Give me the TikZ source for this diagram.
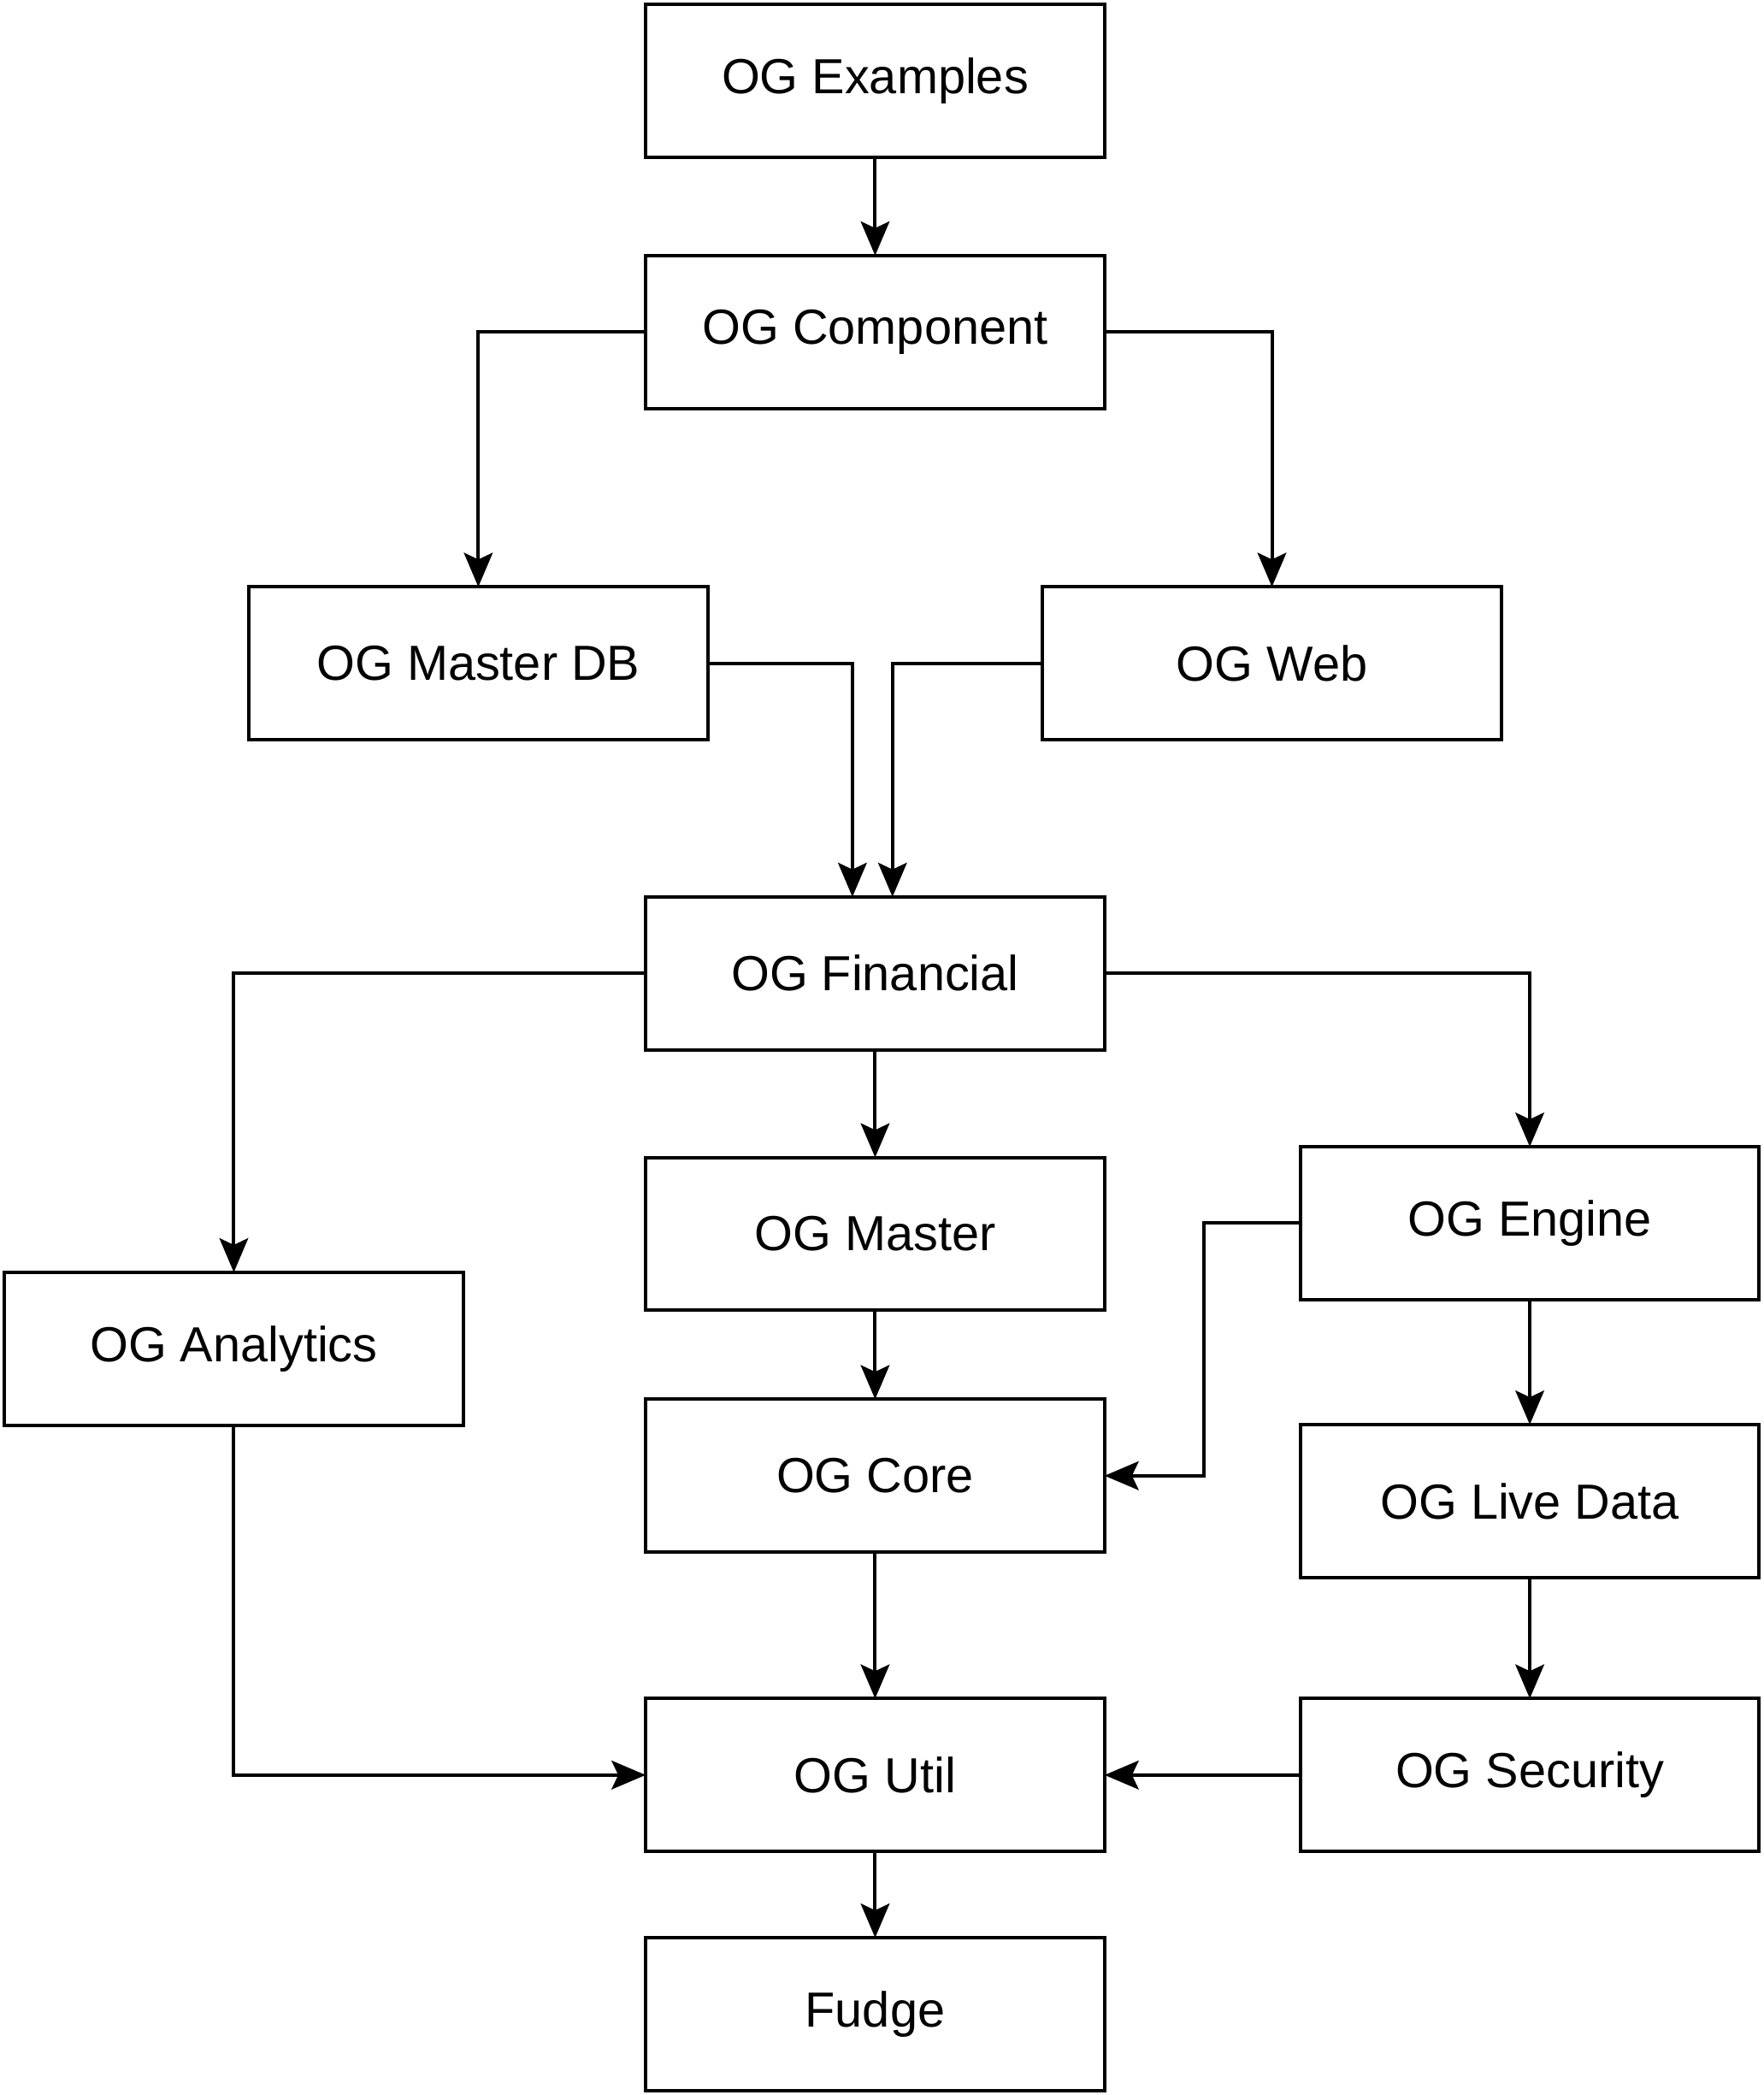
\documentclass[tikz,border=0pt]{standalone}
\usepackage{fontspec}
\setmainfont{Liberation Sans}
\usepackage {tikz}
\usetikzlibrary {positioning}
\usetikzlibrary{arrows.meta}

\begin{document}
\begin{tikzpicture}[
    box/.style={draw, rectangle, outer sep=0pt, minimum width=6.87cm, minimum height=2.29cm, font=\fontsize{21}{25}\selectfont},
    >={Stealth[length=0.51cm, width=0.43cm, inset=0.1cm]},
    every path/.style={line width=1.45pt}
    ]

    \useasboundingbox (0,0) rectangle (26.4,-31.36);

    \node[box] (ex) at (13.1,-1.21) {OG Examples};
    \node[box, below=1.47cm of ex] (comp) {OG Component};

    \node[box, below=2.67cm of comp, xshift=-5.94cm] (mdb) {OG Master DB};
    \node[box, right=5.01cm of mdb] (web) {OG Web};

    \node[box, below=7.31cm of comp] (fin) {OG Financial};
    \node[box, below=1.61cm of fin] (mas) {OG Master};
    \node[box, below=1.33cm of mas] (core) {OG Core};
    \node[box, below=2.19cm of core] (util) {OG Util};
    \node[box, below=1.29cm of util] (fudge) {Fudge};

    \node[box, below left=3.33cm and 2.73cm of fin] (ana) {OG Analytics};
    \node[box, below right=1.45cm and 2.93cm of fin] (eng) {OG Engine};
    \node[box, below=1.87cm of eng] (live) {OG Live Data};
    \node[box, below=1.81cm of live] (sec) {OG Security};

    \draw[->] (ex) -- (comp);
    \draw[->] (comp.west) -| (mdb.north);
    \draw[->] (comp.east) -| (web.north);
    \draw[->] (mdb.east) -| ([xshift=-0.34cm]fin.north);
    \draw[->] (web.west) -| ([xshift=0.26cm]fin.north);
    \draw[->] (fin.west) -| (ana.north);
    \draw[->] (fin) -- (mas);
    \draw[->] (fin.east) -| (eng.north);
    \draw[->] (eng.west) -- ++(-1.44cm,0) |- (core.east);
    \draw[->] (mas) -- (core);
    \draw[->] (eng) -- (live);
    \draw[->] (core) -- (util);
    \draw[->] (ana.south) |- (util.west);
    \draw[->] (live) -- (sec);
    \draw[->] (sec) -- (util);
    \draw[->] (util) -- (fudge);

\end{tikzpicture}
\end{document}
